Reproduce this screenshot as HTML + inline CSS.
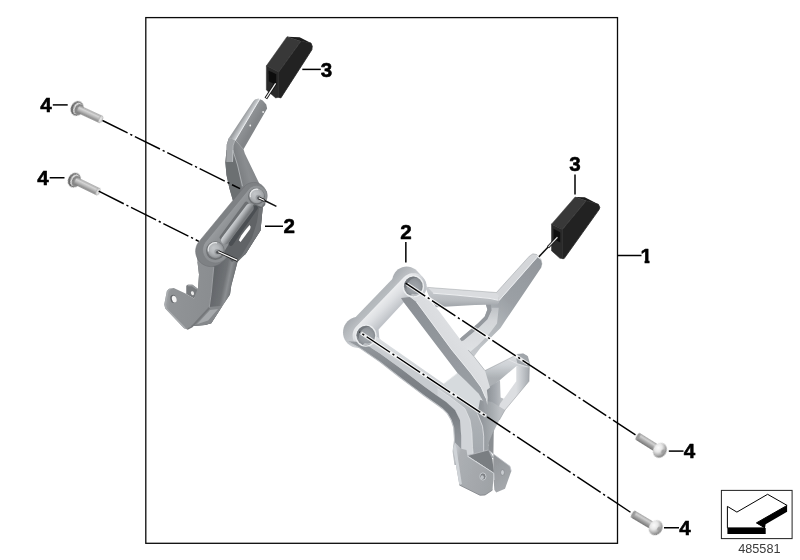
<!DOCTYPE html>
<html><head><meta charset="utf-8"><title>485581</title>
<style>
html,body{margin:0;padding:0;background:#fff;}
svg{display:block;}
text{font-family:"Liberation Sans",sans-serif;}
.lbl{font-weight:bold;font-size:20.6px;text-anchor:middle;fill:#000;stroke:#000;stroke-width:0.55px;stroke-linejoin:round;}
.ld{stroke:#000;stroke-width:1.5;fill:none;}
.cl{stroke:#000;stroke-width:1.45;fill:none;stroke-dasharray:28 3 2.2 2.95;}
.halo{stroke:#fff;stroke-width:3.4;fill:none;opacity:0.8;}
</style></head>
<body>
<svg width="800" height="560" viewBox="0 0 800 560">
<defs>
<filter id="soft" x="-5%" y="-5%" width="110%" height="110%"><feGaussianBlur stdDeviation="0.6"/></filter>
<filter id="soft2" x="-5%" y="-5%" width="110%" height="110%"><feGaussianBlur stdDeviation="0.35"/></filter>
<clipPath id="c1"><path d="M630 240H660V259.8H649.5V266H644.6V259.8H630Z"/></clipPath>
<filter id="softR" x="-5%" y="-5%" width="110%" height="110%" color-interpolation-filters="sRGB"><feGaussianBlur stdDeviation="0.6"/><feComponentTransfer><feFuncR type="linear" slope="1.15" intercept="-0.15"/><feFuncG type="linear" slope="1.15" intercept="-0.15"/><feFuncB type="linear" slope="1.15" intercept="-0.148"/></feComponentTransfer></filter>
<linearGradient id="bs" x1="0" y1="0" x2="0" y2="1"><stop offset="0" stop-color="#9c9c9c"/><stop offset="0.3" stop-color="#d6d6d6"/><stop offset="0.6" stop-color="#b4b4b4"/><stop offset="1" stop-color="#7c7c7c"/></linearGradient>
<linearGradient id="bh" x1="0" y1="0" x2="0" y2="1"><stop offset="0" stop-color="#7e7e7e"/><stop offset="0.5" stop-color="#6c6c6c"/><stop offset="1" stop-color="#616161"/></linearGradient>
<radialGradient id="bd" cx="0.3" cy="0.42" r="0.72"><stop offset="0" stop-color="#fbfbfb"/><stop offset="0.4" stop-color="#e6e6e6"/><stop offset="0.7" stop-color="#b0b0b0"/><stop offset="0.92" stop-color="#858585"/><stop offset="1" stop-color="#7a7a7a"/></radialGradient>
<linearGradient id="bs2" x1="0" y1="0" x2="0" y2="1"><stop offset="0" stop-color="#a2a2a2"/><stop offset="0.28" stop-color="#d4d4d4"/><stop offset="0.6" stop-color="#a4a4a4"/><stop offset="1" stop-color="#757575"/></linearGradient>
<linearGradient id="lb1" gradientUnits="userSpaceOnUse" x1="212" y1="285" x2="236" y2="290"><stop offset="0" stop-color="#63666a"/><stop offset="0.45" stop-color="#6f7275"/><stop offset="0.62" stop-color="#8c8f92"/><stop offset="0.78" stop-color="#74777a"/><stop offset="1" stop-color="#56595c"/></linearGradient>
<linearGradient id="lf1" gradientUnits="userSpaceOnUse" x1="165" y1="295" x2="212" y2="300"><stop offset="0" stop-color="#a3a6a9"/><stop offset="0.12" stop-color="#919497"/><stop offset="1" stop-color="#8a8d90"/></linearGradient>
<linearGradient id="ua2" gradientUnits="userSpaceOnUse" x1="226" y1="170" x2="262" y2="160"><stop offset="0" stop-color="#6d7073"/><stop offset="0.3" stop-color="#7b7e81"/><stop offset="0.55" stop-color="#8a8d90"/><stop offset="1" stop-color="#7e8184"/></linearGradient>
<linearGradient id="ua1" gradientUnits="userSpaceOnUse" x1="247.4" y1="110" x2="259" y2="116.9"><stop offset="0" stop-color="#9b9ea1"/><stop offset="0.3" stop-color="#c6c9cc"/><stop offset="0.38" stop-color="#eceef0"/><stop offset="0.44" stop-color="#8f9295"/><stop offset="1" stop-color="#828588"/></linearGradient>
<linearGradient id="lt" gradientUnits="userSpaceOnUse" x1="205" y1="215" x2="225" y2="230"><stop offset="0" stop-color="#a9acaf"/><stop offset="0.6" stop-color="#9b9ea1"/><stop offset="1" stop-color="#8e9194"/></linearGradient>
<linearGradient id="rib" gradientUnits="userSpaceOnUse" x1="231.5" y1="219" x2="240" y2="225"><stop offset="0" stop-color="#94979a"/><stop offset="0.3" stop-color="#d2d5d8"/><stop offset="0.6" stop-color="#b1b4b7"/><stop offset="1" stop-color="#777a7d"/></linearGradient>
<radialGradient id="bossg" gradientUnits="userSpaceOnUse" cx="0" cy="0" r="8.5" fx="-2.5" fy="-2.5"><stop offset="0" stop-color="#c3c6c9"/><stop offset="0.5" stop-color="#b6b9bc"/><stop offset="0.8" stop-color="#a0a3a6"/><stop offset="1" stop-color="#85888b"/></radialGradient>
<linearGradient id="ra0" gradientUnits="userSpaceOnUse" x1="540" y1="258" x2="470" y2="352"><stop offset="0" stop-color="#a0a4a8"/><stop offset="0.45" stop-color="#a9adb1"/><stop offset="0.7" stop-color="#bcc0c3"/><stop offset="1" stop-color="#cdd0d3"/></linearGradient>
<linearGradient id="ra1" gradientUnits="userSpaceOnUse" x1="0" y1="305" x2="0" y2="352"><stop offset="0" stop-color="#c4c7ca"/><stop offset="0.35" stop-color="#dadcde"/><stop offset="1" stop-color="#e4e6e8"/></linearGradient>
<linearGradient id="ha1" gradientUnits="userSpaceOnUse" x1="0" y1="291" x2="0" y2="307"><stop offset="0" stop-color="#cdd0d3"/><stop offset="0.6" stop-color="#c1c4c7"/><stop offset="1" stop-color="#acb0b4"/></linearGradient>
<linearGradient id="ra2" gradientUnits="userSpaceOnUse" x1="505" y1="262" x2="512" y2="268"><stop offset="0" stop-color="#b9bdc0"/><stop offset="0.4" stop-color="#cdd0d3"/><stop offset="1" stop-color="#dadcde"/></linearGradient>
<linearGradient id="lp1" gradientUnits="userSpaceOnUse" x1="0" y1="352" x2="0" y2="378"><stop offset="0" stop-color="#e1e3e5"/><stop offset="0.5" stop-color="#d6d9dc"/><stop offset="1" stop-color="#b7bbbe"/></linearGradient>
<linearGradient id="lp2" gradientUnits="userSpaceOnUse" x1="516" y1="0" x2="529" y2="0"><stop offset="0" stop-color="#e1e3e5"/><stop offset="0.4" stop-color="#d0d3d6"/><stop offset="1" stop-color="#b1b5b9"/></linearGradient>
<linearGradient id="lp3" gradientUnits="userSpaceOnUse" x1="486" y1="0" x2="502" y2="0"><stop offset="0" stop-color="#9a9ea2"/><stop offset="0.6" stop-color="#b1b5b9"/><stop offset="1" stop-color="#c6c9cc"/></linearGradient>
<linearGradient id="lkw" gradientUnits="userSpaceOnUse" x1="345" y1="300" x2="375" y2="330"><stop offset="0" stop-color="#a6aaae"/><stop offset="0.45" stop-color="#bcc0c3"/><stop offset="1" stop-color="#cfd2d5"/></linearGradient>
<linearGradient id="bsw" gradientUnits="userSpaceOnUse" x1="388" y1="270" x2="410" y2="290"><stop offset="0" stop-color="#a9adb1"/><stop offset="0.5" stop-color="#c2c5c8"/><stop offset="1" stop-color="#d6d9dc"/></linearGradient>
<linearGradient id="bsw2" gradientUnits="userSpaceOnUse" x1="340" y1="320" x2="362" y2="340"><stop offset="0" stop-color="#a9adb1"/><stop offset="0.5" stop-color="#c2c5c8"/><stop offset="1" stop-color="#d6d9dc"/></linearGradient>
<linearGradient id="lkt" gradientUnits="userSpaceOnUse" x1="374" y1="292" x2="394" y2="312"><stop offset="0" stop-color="#d3d6d9"/><stop offset="0.28" stop-color="#f3f4f5"/><stop offset="0.65" stop-color="#e2e4e6"/><stop offset="1" stop-color="#c9ccd0"/></linearGradient>
<linearGradient id="la2" gradientUnits="userSpaceOnUse" x1="410" y1="353" x2="403" y2="365"><stop offset="0" stop-color="#e6e8ea"/><stop offset="0.5" stop-color="#dcdfe1"/><stop offset="1" stop-color="#cfd2d5"/></linearGradient>
<linearGradient id="la1" gradientUnits="userSpaceOnUse" x1="0" y1="340" x2="0" y2="460"><stop offset="0" stop-color="#a4a8ac"/><stop offset="0.3" stop-color="#8f9397"/><stop offset="0.6" stop-color="#8a8e92"/><stop offset="0.8" stop-color="#9ca0a4"/><stop offset="1" stop-color="#a6aaae"/></linearGradient>
<linearGradient id="nkm" gradientUnits="userSpaceOnUse" x1="0" y1="385" x2="0" y2="455"><stop offset="0" stop-color="#d0d3d6"/><stop offset="0.4" stop-color="#b9bdc0"/><stop offset="1" stop-color="#b0b4b8"/></linearGradient>
<linearGradient id="nkd" gradientUnits="userSpaceOnUse" x1="480" y1="0" x2="500" y2="0"><stop offset="0" stop-color="#9ea2a6"/><stop offset="0.6" stop-color="#b3b7ba"/><stop offset="1" stop-color="#c6c9cc"/></linearGradient>
<linearGradient id="stw" gradientUnits="userSpaceOnUse" x1="0" y1="300" x2="0" y2="400"><stop offset="0" stop-color="#9b9fa3"/><stop offset="1" stop-color="#a9adb1"/></linearGradient>
<linearGradient id="st1" gradientUnits="userSpaceOnUse" x1="432" y1="318" x2="452" y2="304"><stop offset="0" stop-color="#dfe1e3"/><stop offset="0.5" stop-color="#e2e4e6"/><stop offset="0.8" stop-color="#d3d6d9"/><stop offset="1" stop-color="#c2c5c8"/></linearGradient>
<linearGradient id="rp1" gradientUnits="userSpaceOnUse" x1="488" y1="450" x2="512" y2="480"><stop offset="0" stop-color="#9a9da0"/><stop offset="0.5" stop-color="#a6a9ac"/><stop offset="1" stop-color="#b0b3b6"/></linearGradient>
<linearGradient id="fp1" gradientUnits="userSpaceOnUse" x1="453" y1="460" x2="494" y2="472"><stop offset="0" stop-color="#c9ccd0"/><stop offset="0.12" stop-color="#b7babd"/><stop offset="1" stop-color="#acafb2"/></linearGradient>
<radialGradient id="hole" gradientUnits="userSpaceOnUse" cx="0" cy="0" r="9.5" fx="2" fy="3"><stop offset="0" stop-color="#b1b5b9"/><stop offset="0.7" stop-color="#a3a7ab"/><stop offset="1" stop-color="#94989c"/></radialGradient>
</defs>
<rect width="800" height="560" fill="#fff"/>
<!-- frame -->
<rect x="145.8" y="17.6" width="471.7" height="525.7" fill="none" stroke="#0a0a0a" stroke-width="1.3"/>

<g transform="translate(77.1 108.4) rotate(24.88)" filter="url(#soft)"><ellipse cx="0" cy="0" rx="6.2" ry="7.6" fill="url(#bh)"/><ellipse cx="1.0" cy="0" rx="4.5" ry="6.2" fill="#f6f6f6"/><ellipse cx="2.1" cy="0.1" rx="4.5" ry="5.8" fill="#868686"/><rect x="2.2" y="-3.8" width="23.70" height="7.6" fill="url(#bs)"/><ellipse cx="2.4" cy="0" rx="1.8" ry="3.6" fill="url(#bs)"/><ellipse cx="25.90" cy="0" rx="1.7" ry="3.75" fill="#e2e2e2" stroke="#a0a0a0" stroke-width="0.7"/></g>
<g transform="translate(74.35 180.1) rotate(26.03)" filter="url(#soft)"><ellipse cx="0" cy="0" rx="6.2" ry="7.6" fill="url(#bh)"/><ellipse cx="1.0" cy="0" rx="4.5" ry="6.2" fill="#f6f6f6"/><ellipse cx="2.1" cy="0.1" rx="4.5" ry="5.8" fill="#868686"/><rect x="2.2" y="-3.8" width="24.12" height="7.6" fill="url(#bs)"/><ellipse cx="2.4" cy="0" rx="1.8" ry="3.6" fill="url(#bs)"/><ellipse cx="26.32" cy="0" rx="1.7" ry="3.75" fill="#e2e2e2" stroke="#a0a0a0" stroke-width="0.7"/></g>
<g transform="translate(636.95 435.9) rotate(32.07)" filter="url(#soft)"><rect x="1.2" y="-4.0" width="23.02" height="8.0" fill="url(#bs2)"/><ellipse cx="1.2" cy="0" rx="1.5" ry="4.0" fill="#9a9a9a"/><ellipse cx="27.02" cy="0" rx="6.6" ry="7.7" fill="url(#bd)"/><ellipse cx="30.22" cy="-0.6" rx="1.6" ry="2.2" fill="#9a9a9a" opacity="0.8"/></g>
<g transform="translate(632.25 513.65) rotate(30.84)" filter="url(#soft)"><rect x="1.2" y="-4.0" width="23.31" height="8.0" fill="url(#bs2)"/><ellipse cx="1.2" cy="0" rx="1.5" ry="4.0" fill="#9a9a9a"/><ellipse cx="27.31" cy="0" rx="6.6" ry="7.7" fill="url(#bd)"/><ellipse cx="30.51" cy="-0.6" rx="1.6" ry="2.2" fill="#9a9a9a" opacity="0.8"/></g>
<g filter="url(#soft)">
<path d="M278.63 71.98 L300.85 41.35 L311.0 43.1 L312.23 46.25 L311.88 49.75 L280.9 97.88 L278.63 97.35Z" fill="#242424" stroke="#242424" stroke-width="0.8"/>
<path d="M266.38 65.85 L287.03 36.63 L300.85 41.35 L278.63 71.98Z" fill="#383838" stroke="#383838" stroke-width="0.5"/>
<path d="M266.38 65.85 L278.63 71.98 L278.63 97.35 L275.65 97.88 L266.38 90.0Z" fill="#2b2b2b" stroke="#2b2b2b" stroke-width="0.5"/>
<path d="M287.03 36.63 L299.63 37.15 L311.0 43.1 L300.85 41.35Z" fill="#1b1b1b" />
<path d="M268.65 70.4 L276.35 74.25 L276.35 85.1 L268.65 81.6Z" fill="#0f0f0f" />
<path d="M275.65 83.35 L265.85 98.4" fill="none" stroke="#111" stroke-width="3.0" />
<path d="M275.65 83.35 L266.2 97.88" fill="none" stroke="#f4f4f4" stroke-width="1.2" />
<path d="M562.35 229.55 L586.15 200.85 L598.4 204.35 L599.8 207.5 L599.1 209.6 L564.1 258.6 L562.35 258.6Z" fill="#242424" stroke="#242424" stroke-width="0.8"/>
<path d="M551.5 224.13 L575.13 197.0 L586.15 200.85 L562.35 229.55Z" fill="#383838" stroke="#383838" stroke-width="0.5"/>
<path d="M551.5 224.13 L562.35 229.55 L562.35 258.6 L559.9 258.25 L551.5 250.73Z" fill="#2b2b2b" stroke="#2b2b2b" stroke-width="0.5"/>
<path d="M575.13 197.0 L584.75 197.35 L598.4 204.35 L586.15 200.85Z" fill="#1b1b1b" />
<path d="M553.6 228.85 L560.25 232.18 L560.25 242.5 L553.6 239.35Z" fill="#0f0f0f" />
<path d="M557.45 237.25 L538.9 256.85" fill="none" stroke="#111" stroke-width="1.5" />
<path d="M557.45 237.25 L548.0 247.23" fill="none" stroke="#111" stroke-width="2.8" />
<path d="M557.45 237.25 L548.35 246.88" fill="none" stroke="#e0e0e0" stroke-width="1.1" />
</g>
<g filter="url(#soft)">
<path d="M258 186 L266.6 191.5 L265.2 205 L262.7 207.6 L260.5 230.4 L245.6 254 L237.5 262.0 L231.25 285.75 L230.0 294.5 L222.5 305.75 L211.25 323.25 L205.0 325.12 L191.25 326.0 L186.25 328.88 L198.12 287.62 L199.0 274.5 L197.5 262.0 L222.5 245.0 L235.0 220.0Z" fill="#6d7073" />
<path d="M241.25 210.25 L251.75 208.5 L256.12 215.5 L250.0 225.12 L238.62 240.0 L232.5 250.49 L225.5 250.49 L229.0 238.25Z" fill="#5b5e61" />
<path d="M249.56 224.95 L250.61 226.87 L250.17 229.06 L240.55 241.92 L238.8 240.35 L241.25 235.62 L245.18 230.37Z" fill="#ffffff" />
<path d="M210.0 254.5 L240.0 254.5 L237.5 262.0 L231.25 285.75 L230.0 294.5 L222.5 305.75 L211.25 323.25 L205.0 325.12 L191.25 326.0 L208.75 307.0 L210.62 293.25 L212.75 274.5Z" fill="url(#lb1)" />
<path d="M208.75 307.0 L222.5 305.75 L211.25 323.25 L205.0 325.12 L191.25 326.0Z" fill="#85888b" />
<path d="M210.0 310.12 L218.12 308.88 L208.12 320.5 L196.88 324.25Z" fill="#a6a9ac" />
<path d="M186.25 285.75 L187.75 284.75 L192.5 284.75 L197.5 288.5 L198.12 292.0 L194.0 298.5 L186.25 294.0Z" fill="#777a7d" />
<path d="M187.75 284.75 L192.5 284.75 L197.5 288.5 L196.25 289.5 L192.0 286.25 L187.75 286.25Z" fill="#9a9da0" />
<ellipse cx="192.50" cy="293.25" rx="1.5" ry="2.0" fill="#ececec" transform="rotate(-20 192.50 293.25)"/>
<path d="M166.88 291.0 L169.0 288.75 L173.75 288.0 L185.0 293.25 L194.0 298.5 L198.12 287.62 L199.0 274.5 L196.88 257.0 L214.38 257.0 L213.5 269.5 L211.0 293.25 L209.0 307.62 L191.25 326.0 L186.25 328.88 L184.0 328.25 L165.25 308.5 L164.25 304.5Z" fill="url(#lf1)" />
<path d="M213.75 267.0 L211.25 293.25 L209.25 307.25 L192.5 325.12" fill="none" stroke="#a0a3a6" stroke-width="0.9" />
<path d="M166.88 291.0 L169.0 288.75 L171.0 288.75 L168.5 291.5 L166.0 304.75 L167.0 308.5 L185.0 327.0 L186.25 328.88 L184.0 328.25 L165.25 308.5 L164.25 304.5Z" fill="#a9acaf" />
<path d="M186.25 328.88 L191.25 326.0 L208.75 307.0 L210.0 308.5 L192.5 327.25 L187.75 329.75Z" fill="#74777a" />
<ellipse cx="173.38" cy="298.88" rx="2.9" ry="4.1" fill="#63666a" transform="rotate(-15 173.38 298.88)"/>
<ellipse cx="174.25" cy="299.12" rx="2.3" ry="3.5" fill="#f4f4f4" transform="rotate(-15 174.25 299.12)"/>
<path d="M228.75 138.25 L235.0 140.0 L243.5 149.25 L247.5 162.0 L243.12 150.0 L260.0 185.0 L252.5 191.25 L236.25 202.5 L232.75 200.0 L229.5 188.75 L226.5 175.0 L225.38 162.5 L226.5 150.0 L226.25 162.0 L226.75 144.5Z" fill="url(#ua2)" />
<path d="M226.5 150.0 L232.75 150.0 L237.5 165.0 L241.25 187.5 L236.25 202.5 L232.75 200.0 L229.5 188.75 L226.5 175.0 L225.38 162.5Z" fill="#6c6f72" />
<path d="M228.75 138.25 L235.0 140.0 L233.12 145.75 L232.5 162.0 L226.25 162.0 L226.75 144.5Z" fill="#9fa2a5" />
<path d="M235.0 140.0 L233.12 145.75 L232.5 162.0 L232.75 150.0 L237.5 165.0 L242.5 186.25" fill="none" stroke="#b9bcbf" stroke-width="0.8" />
<path d="M253.12 101.38 L255.0 99.5 L258.5 98.62 L262.75 100.5 L266.25 104.5 L267.12 108.5 L243.5 149.25 L235.0 140.0 L228.75 138.25Z" fill="url(#ua1)" />
<circle cx="263.12" cy="112.00" r="0.9" fill="#f0f0f0"/>
<circle cx="250.25" cy="125.50" r="0.9" fill="#f0f0f0"/>
<path d="M195.6 251.2 L195.79 248.79 L196.35 246.44 L197.28 244.21 L198.54 242.15 L243.44 187.68 L244.75 186.15 L246.28 184.84 L247.99 183.8 L249.84 183.03 L251.8 182.56 L253.8 182.4 L255.8 182.56 L257.76 183.03 L259.61 183.8 L261.32 184.84 L262.85 186.15 L264.16 187.68 L265.2 189.39 L265.97 191.24 L266.44 193.2 L266.6 195.2 L266.44 197.2 L265.97 199.16 L265.2 201.01 L264.16 202.72 L223.46 260.25 L221.89 262.09 L220.05 263.66 L217.99 264.92 L215.76 265.85 L213.41 266.41 L211.0 266.6 L208.59 266.41 L206.24 265.85 L204.01 264.92 L201.95 263.66 L200.11 262.09 L198.54 260.25 L197.28 258.19 L196.35 255.96 L195.79 253.61Z" fill="#7e8184" stroke="#6a6d70" stroke-width="0.5"/>
<path d="M202.6 250.0 L202.76 247.97 L203.24 245.98 L204.02 244.1 L205.08 242.36 L248.34 189.64 L249.4 188.4 L250.64 187.34 L252.03 186.48 L253.54 185.86 L255.12 185.48 L256.75 185.35 L258.38 185.48 L259.96 185.86 L261.47 186.48 L262.86 187.34 L264.1 188.4 L265.16 189.64 L266.02 191.03 L266.64 192.54 L267.02 194.12 L267.15 195.75 L267.02 197.38 L266.64 198.96 L266.02 200.47 L265.16 201.86 L226.12 257.64 L224.79 259.19 L223.24 260.52 L221.5 261.58 L219.62 262.36 L217.63 262.84 L215.6 263.0 L213.57 262.84 L211.58 262.36 L209.7 261.58 L207.96 260.52 L206.41 259.19 L205.08 257.64 L204.02 255.9 L203.24 254.02 L202.76 252.03Z" fill="url(#lt)" stroke="#7b7e81" stroke-width="0.7"/>
<path d="M254 204 L262.7 207.6 L260.5 230.4 L245.6 254 L232 262 L224 252 L236 232Z" fill="#606366" />
<path d="M249.56 224.95 L250.61 226.87 L250.17 229.06 L240.55 241.92 L238.8 240.35 L241.25 235.62 L245.18 230.37Z" fill="#ffffff" />
<path d="M262.7 207.6 L260.5 230.4 L245.6 254 L240 258 L252 238 L257 222 L259 208Z" fill="#707376" />
<path d="M246.50 203.50L221.50 237.50" stroke="#6d7073" stroke-width="4.0" stroke-linecap="round" fill="none" />
<path d="M255.50 208.00L231.00 243.50" stroke="#4c4f52" stroke-width="4.6" stroke-linecap="round" fill="none" />
<path d="M249.60 208.00L225.20 240.20" stroke="url(#rib)" stroke-width="8.4" stroke-linecap="round" fill="none" />
<g transform="translate(256.75 195.75)"><circle r="8.4" cx="-0.3" cy="0.6" fill="#6f7275"/><circle r="7.4" fill="url(#bossg)"/><path d="M-6.30 1.5A6.30 6.30 0 0 1 1.5 -6.30" fill="none" stroke="#eceef0" stroke-width="1.2" opacity="0.9"/><circle cx="1.8" cy="2.0" r="3.0" fill="#9c9fa2"/><circle cx="2.1" cy="2.3" r="1.8" fill="#5a5d60"/></g>
<g transform="translate(215.6 250.0)"><circle r="9.3" cx="-0.3" cy="0.6" fill="#6f7275"/><circle r="8.3" fill="url(#bossg)"/><path d="M-7.20 1.5A7.20 7.20 0 0 1 1.5 -7.20" fill="none" stroke="#eceef0" stroke-width="1.2" opacity="0.9"/><circle cx="1.8" cy="2.0" r="3.0" fill="#9c9fa2"/><circle cx="2.1" cy="2.3" r="1.8" fill="#5a5d60"/></g>
</g>
<g filter="url(#soft2)">
<path d="M259.0 197.9 L264.5 200.5" fill="none" stroke="#111" stroke-width="2.8" />
<path d="M259.0 197.9 L264.5 200.5" fill="none" stroke="#f6f6f6" stroke-width="1.2" />
<path d="M264.5 200.5 L276.4 206.3" fill="none" stroke="#111" stroke-width="1.4" />
<path d="M218.2 251.6 L237.6 260.4" fill="none" stroke="#111" stroke-width="2.8" />
<path d="M218.2 251.6 L237.6 260.4" fill="none" stroke="#f6f6f6" stroke-width="1.2" />
<path d="M237.6 260.4 L238.0 260.6" fill="none" stroke="#111" stroke-width="1.4" />
</g>
<g filter="url(#softR)">
<path d="M537.26 257.0 L540.76 259.63 L541.98 264.0 L541.28 267.5 L505.75 320.0 L500.5 327.88 L480.38 348.0 L474 356.5 L452 338 L457.63 341.0 L462.0 336.63 L477.75 323.5 L484.75 316.5 L487.38 309.5 L485.63 303.55 L497.88 303.55 L498.75 300.75Z" fill="url(#ra0)" />
<path d="M491.4 307.75 L498.75 307.75 L497.0 323.5 L489.13 334.0 L477.75 345.38 L470 352 L458 343 L463.75 340.13 L479.5 327.0 L487.38 319.13 L491.4 310.38Z" fill="url(#ra1)" />
<path d="M485.63 303.55 L490.88 303.55 L491.4 310.38 L487.38 319.13 L479.5 327.0 L463.75 340.13 L458 343 L452 338 L457.63 341.0 L462.0 336.63 L477.75 323.5 L484.75 316.5 L487.38 309.5Z" fill="#a3a7ab" />
<path d="M423.5 283.25 L426.13 287.63 L496.13 292.88 L500.85 297.6 L499.1 301.8 L497.88 304.43 L474.95 304.95 L435.93 307.23 L428.75 295.5Z" fill="url(#ha1)" />
<path d="M423.5 283.25 L426.13 287.28 L496.13 292.53 L499.1 295.85 L498.05 300.05 L490.0 298.3 L455.0 294.8 L433.13 293.05Z" fill="#dfe1e3" />
<path d="M433.13 293.23 L455.0 294.98 L490.0 298.48 L498.05 300.23" fill="none" stroke="#f3f4f5" stroke-width="0.9" />
<path d="M426.13 287.28 L496.13 292.53" fill="none" stroke="#9fa3a7" stroke-width="0.6" opacity="0.7"/>
<path d="M496.13 292.88 L529.38 256.13 L532.88 253.85 L536.38 254.38 L537.61 257.35 L499.1 300.75 L498.05 300.05 L499.1 295.85Z" fill="url(#ra2)" />
<path d="M536.91 257.35 L499.1 300.4" fill="none" stroke="#eceef0" stroke-width="1.0" />
<path d="M496.13 292.88 L529.38 256.13 L532.88 253.85 L536.91 254.55 L541.11 259.8 L541.98 264.35" fill="none" stroke="#9fa3a7" stroke-width="0.6" opacity="0.8"/>
<path d="M480.0 381.25 L485.0 370.62 L507.5 359.38 L517.5 354.38 L523.12 353.75 L527.5 356.25 L529.25 362.5 L529.25 370.0 L516.25 366.25 L500.0 380.0 L490.0 387.5Z" fill="url(#lp1)" />
<path d="M517.5 354.38 L523.12 353.75 L527.5 356.25 L529.25 362.5 L529.25 367.5 L517.5 363.75 L516.25 358.75Z" fill="#aeb2b6" />
<path d="M507.5 359.38 L517.5 363.75 L529.25 367.5" fill="none" stroke="#e6e8ea" stroke-width="0.9" />
<path d="M516.25 366.25 L529.25 367.5 L529.25 370.0 L529.0 381.25 L505.0 410.0 L499.38 420.0 L488.75 420.0 L500.0 402.5 L503.75 398.75 L516.25 381.25Z" fill="url(#lp2)" />
<path d="M485.0 387.5 L490.0 386.5 L500.0 380.0 L500.62 397.5 L503.75 398.75 L500.0 403.75 L495.0 420.0 L486.25 420.0 L486.88 400.0Z" fill="url(#lp3)" />
<path d="M346.8 331.8 L346.97 329.64 L347.48 327.54 L348.3 325.53 L349.44 323.69 L350.84 322.04 L398.34 272.84 L399.99 271.44 L401.83 270.3 L403.84 269.48 L405.94 268.97 L408.1 268.8 L410.26 268.97 L412.36 269.48 L414.37 270.3 L416.21 271.44 L417.86 272.84 L419.26 274.49 L420.4 276.33 L421.22 278.34 L421.73 280.44 L421.9 282.6 L421.73 284.76 L421.22 286.86 L420.4 288.87 L419.26 290.71 L417.86 292.36 L370.36 341.56 L368.71 342.96 L366.87 344.1 L364.86 344.92 L362.76 345.43 L360.6 345.6 L358.44 345.43 L356.34 344.92 L354.33 344.1 L352.49 342.96 L350.84 341.56 L349.44 339.91 L348.3 338.07 L347.48 336.06 L346.97 333.96Z" fill="url(#lkw)" />
<path d="M392.3 281.0 L392.48 278.75 L393.0 276.55 L393.87 274.46 L395.05 272.54 L396.52 270.82 L398.24 269.35 L400.16 268.17 L402.25 267.3 L404.45 266.78 L406.7 266.6 L408.95 266.78 L411.15 267.3 L413.24 268.17 L415.16 269.35 L416.88 270.82 L422.63 277.07 L423.98 278.64 L425.06 280.41 L425.85 282.32 L426.34 284.34 L426.5 286.4 L426.34 288.46 L425.85 290.48 L425.06 292.39 L423.98 294.16 L422.63 295.73 L421.06 297.08 L419.29 298.16 L417.38 298.95 L415.36 299.44 L413.3 299.6 L411.24 299.44 L409.22 298.95 L407.31 298.16 L400.16 293.83 L398.24 292.65 L396.52 291.18 L395.05 289.46 L393.87 287.54 L393.0 285.45 L392.48 283.25Z" fill="url(#bsw)" />
<path d="M343.0 332.4 L343.19 329.96 L343.76 327.58 L344.7 325.32 L345.98 323.23 L347.57 321.37 L349.43 319.78 L351.52 318.5 L353.78 317.56 L356.16 316.99 L358.6 316.8 L361.04 316.99 L363.42 317.56 L365.68 318.5 L367.77 319.78 L369.63 321.37 L375.13 326.27 L376.48 327.84 L377.56 329.61 L378.35 331.52 L378.84 333.54 L379.0 335.6 L378.84 337.66 L378.35 339.68 L377.56 341.59 L376.48 343.36 L375.13 344.93 L373.56 346.28 L371.79 347.36 L369.88 348.15 L367.86 348.64 L365.8 348.8 L363.74 348.64 L356.16 347.81 L353.78 347.24 L351.52 346.3 L349.43 345.02 L347.57 343.43 L345.98 341.57 L344.7 339.48 L343.76 337.22 L343.19 334.84Z" fill="url(#bsw2)" />
<path d="M352.6 335.6 L352.76 333.54 L353.25 331.52 L354.04 329.61 L355.12 327.84 L356.47 326.27 L403.97 277.07 L405.54 275.72 L407.31 274.64 L409.22 273.85 L411.24 273.36 L413.3 273.2 L415.36 273.36 L417.38 273.85 L419.29 274.64 L421.06 275.72 L422.63 277.07 L423.98 278.64 L425.06 280.41 L425.85 282.32 L426.34 284.34 L426.5 286.4 L426.34 288.46 L425.85 290.48 L425.06 292.39 L423.98 294.16 L422.63 295.73 L375.13 344.93 L373.56 346.28 L371.79 347.36 L369.88 348.15 L367.86 348.64 L365.8 348.8 L363.74 348.64 L361.72 348.15 L359.81 347.36 L358.04 346.28 L356.47 344.93 L355.12 343.36 L354.04 341.59 L353.25 339.68 L352.76 337.66Z" fill="url(#lkt)" />
<path d="M404 302 L378.6 329.4 L379.4 338.7 L443.7 383.7 L457.5 373.1 L440 350Z" fill="#ffffff" />
<path d="M377.5 336.9 L379.4 338.7 L443.7 383.7 L457.5 373.1 L467.5 381.2 L480 395 L486 415 L484 458 L466.2 465 L466.2 465 L461.2 451.2 L461.2 436.2 L460 420 L455 410 L446.2 401.9 L437.5 396 L425 386.9 L412.5 377.5 L400 368.1 L380 353.5 L362 342Z" fill="url(#la2)" />
<path d="M437.5 396 L446.2 401.9 L455 410 L460 420 L461.2 436.2 L461.2 451.2 L466.2 465 L473.7 458 L473.7 458 L472.5 447.5 L471.9 432.5 L470 420 L465 408.7 L458.7 403.7 L450 397.2 L437.5 388.7Z" fill="#d7dadd" />
<path d="M457.5 373.12 L443.75 383.75 L450.0 391.25 L485.0 415.0 L483.75 405.0 L480.0 395.0 L467.5 381.25Z" fill="#dcdfe1" />
<path d="M457.5 373.12 L443.75 383.75" fill="none" stroke="#f1f2f3" stroke-width="0.8" />
<path d="M347.5 341.2 L360 348.1 L380 361.9 L400 377.5 L412.5 386.9 L425 396.2 L437.5 405 L442.5 408.7 L447.5 413.7 L451.2 420 L453.7 427.5 L454.5 440 L453.1 451.2 L455 465 L466.2 465 L461.2 451.2 L461.2 436.2 L460 420 L455 410 L446.2 401.9 L437.5 396 L425 386.9 L412.5 377.5 L400 368.1 L380 353.5 L362 342Z" fill="url(#la1)" />
<path d="M347.5 341.2 L360 348.1 L380 361.9 L400 377.5 L412.5 386.9 L425 396.2 L437.5 405 L442.5 408.7 L447.5 413.7 L451.2 420 L453.7 427.5 L454.5 440 L453.1 451.2 L455 465" fill="none" stroke="#c6c9cc" stroke-width="1.1" />
<path d="M437.5 388.7 L450 397.2 L458.7 403.7 L465 408.7 L470 420 L471.9 432.5 L472.5 447.5 L473.7 458 L483.7 458 L483.7 436.2 L482.5 426.2 L477.5 413.7 L467.5 402.5 L455 395 L440 386Z" fill="url(#nkm)" />
<path d="M437.5 388.7 L450 397.2 L458.7 403.7 L465 408.7 L470 420 L471.9 432.5 L472.5 447.5 L473.7 458" fill="none" stroke="#e9ebed" stroke-width="0.7" />
<path d="M477.5 413.7 L482.5 426.2 L483.7 436.2 L483.7 458 L494 458 L490 451.2 L488.7 445 L493.7 431.2 L500 418.7 L505 410 L492 402 L480 400Z" fill="url(#nkd)" />
<path d="M477.5 413.7 L482.5 426.2 L483.7 436.2 L483.7 452" fill="none" stroke="#e4e6e8" stroke-width="0.8" />
<path d="M401.0 298.0 L403.5 302.0 L440 350.0 L457.5 373.1 L466.25 381.25 L478.75 393.75 L483.75 402.5 L485.62 415.0 L487.75 415.0 L486.5 400.0 L481.25 387.5 L471.3 373.8 L451.9 350.0 L416.5 302.0 L410.0 297.0Z" fill="url(#stw)" />
<path d="M410.0 297.0 L416.5 302.0 L451.9 350.0 L471.3 373.8 L481.25 387.5 L485.62 397.5 L487.25 405.0 L487.75 397.5 L486.88 390.0 L490.0 387.5 L485.0 370.62 L473.75 356.25 L468.12 350.0 L439 311 L425 295 L419.0 291.0Z" fill="url(#st1)" />
<path d="M416.5 302.0 L451.9 350.0 L471.3 373.8 L481.25 387.5 L485.62 397.5" fill="none" stroke="#eff0f1" stroke-width="0.8" />
<path d="M468.12 350.0 L473.75 356.25 L485.0 370.62 L507.5 359.38 L517.5 354.38 L523.12 353.75 L527.5 356.25 L529.25 362.5 L529.25 370.0 L529.0 381.25 L505.0 410.0 L499.38 420.0" fill="none" stroke="#9fa3a7" stroke-width="0.7" opacity="0.75"/>
<path d="M493.75 430.0 L488.75 442.5 L488.75 450.62 L510.0 466.25 L511.25 471.25 L505.0 488.75 L496.25 492.5 L494.38 490.0 L493.12 473.12Z" fill="url(#rp1)" />
<path d="M488.75 450.62 L510.0 466.25 L511.25 471.25" fill="none" stroke="#c9ccd0" stroke-width="0.8" />
<path d="M467.5 455.62 L488.12 450.0 L492.5 459.38 L493.75 473.12Z" fill="#8c8f92" />
<path d="M467.5 455.62 L488.12 450.0" fill="none" stroke="#c4c7ca" stroke-width="0.8" />
<path d="M453.12 448.75 L455.0 442.5 L461.25 448.75 L466.5 450.0 L467.5 456.25 L493.75 473.12 L492.5 490.0 L485.0 495.0 L480.0 495.25 L459.38 485.0Z" fill="url(#fp1)" />
<path d="M453.12 448.75 L455.0 442.5 L456.5 448.75 L461.88 484.0 L459.38 485.0Z" fill="#d6d9dc" />
<path d="M467.5 456.25 L493.75 473.12 L494.0 480.0" fill="none" stroke="#d9dcdf" stroke-width="1.0" />
<path d="M459.38 485.0 L480.0 495.25 L485.0 495.0 L492.5 490.0" fill="none" stroke="#8f9295" stroke-width="0.8" />
<ellipse cx="482.88" cy="476.50" rx="3.1" ry="3.6" fill="#8e9194" stroke="#d3d6d9" stroke-width="0.9"/>
<ellipse cx="482.25" cy="477.25" rx="1.6" ry="2.1" fill="#c9ccd0"/>
<ellipse cx="502.50" cy="472.50" rx="1.9" ry="2.8" fill="#d0d3d6" stroke="#8f9295" stroke-width="0.6"/>
<g transform="translate(413.3 286.4)"><ellipse rx="10.8" ry="11.2" fill="#eef0f1"/><ellipse rx="9.4" ry="9.8" fill="url(#hole)"/><path d="M-9.2 0A9.4 9.8 0 0 1 4.2 -8.8 A11 11 0 0 0 -7 3.4Z" fill="#868a8e"/><path d="M-3 9.2A9.4 9.8 0 0 0 9.2 -2 A8 8 0 0 1 -1 7.4Z" fill="#c6c9cc"/></g>
<g transform="translate(365.8 335.6)"><ellipse rx="10.8" ry="11.2" fill="#eef0f1"/><ellipse rx="9.4" ry="9.8" fill="url(#hole)"/><path d="M-9.2 0A9.4 9.8 0 0 1 4.2 -8.8 A11 11 0 0 0 -7 3.4Z" fill="#868a8e"/><path d="M-3 9.2A9.4 9.8 0 0 0 9.2 -2 A8 8 0 0 1 -1 7.4Z" fill="#c6c9cc"/></g>
</g>

<!-- centre lines -->
<g id="clines" filter="url(#soft2)">
<path class="cl" d="M102.5 120.5 L240 188.7"/>
<path class="cl" d="M98.7 191.2 L198.8 241.3"/>
<path class="halo" d="M407 284 L528 363.9"/><path class="cl" d="M405.6 283.1 L635.5 434.85" stroke-dashoffset="4.5"/>
<path class="halo" d="M361 333 L486 416.1"/><path class="cl" d="M359.4 331.9 L630.5 512.25" stroke-dashoffset="27.4"/>
</g>

<!-- labels -->
<g id="labels" filter="url(#soft2)">
<text class="lbl" x="46.1" y="111.9">4</text><path class="ld" d="M52.8 104.9H67.7"/>
<text class="lbl" x="43.1" y="184.9">4</text><path class="ld" d="M49.7 177.75H64.5"/>
<text class="lbl" x="326.6" y="76.6">3</text><path class="ld" d="M302.3 69.4H320.8"/>
<text class="lbl" x="289.25" y="233.2">2</text><path class="ld" d="M265 226.25H283"/>
<text class="lbl" x="405.9" y="238.7">2</text><path class="ld" d="M405.85 242V262.4"/>
<text class="lbl" x="575" y="170.8">3</text><path class="ld" d="M575 174.5V194.6"/>
<text class="lbl" x="646.3" y="262.7" clip-path="url(#c1)">1</text><path class="ld" d="M617.5 255.5H641.5"/>
<text class="lbl" x="689.6" y="458.2">4</text><path class="ld" d="M668.8 451.1H683.5"/>
<text class="lbl" x="685.1" y="534.9">4</text><path class="ld" d="M664 527.75H679"/>
</g>

<!-- icon -->
<g id="icon" filter="url(#soft2)">
<rect x="721.4" y="490.4" width="70.7" height="48.2" fill="#fff" stroke="#222" stroke-width="1"/>
<path d="M727.4 506.4L736.9 512.1L767.6 494.3L787.1 505.4L756.4 522.9L765 527.9H727.4Z" fill="#fff" stroke="#000" stroke-width="1"/>
<path d="M787.1 505.4V511.7L765.6 524.2L765 527.9L756.4 522.9Z" fill="#000"/>
<path d="M727.4 527.9H765.7V534H727.4Z" fill="#000"/>
<text x="738.2" y="552.6" font-size="12.7" fill="#3a3a3a">485581</text>
</g>
</svg>
</body></html>
